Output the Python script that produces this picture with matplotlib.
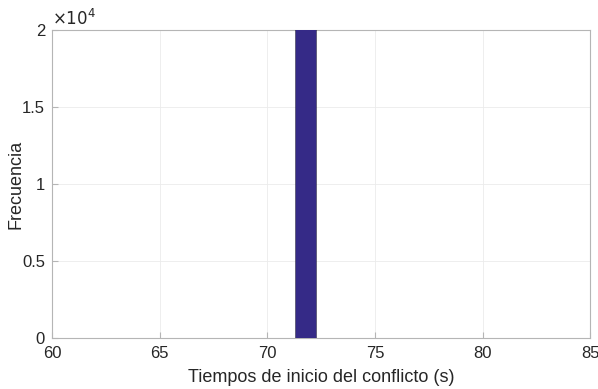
import numpy as np
import matplotlib.pyplot as plt
from matplotlib.ticker import FuncFormatter

plt.rcParams['font.family'] = ['Liberation Sans', 'DejaVu Sans']

# histograma de tiempos de inicio del conflicto
bordes = np.linspace(61.25, 81.30, 21)
frecuencias = [1, 1, 2, 2, 3, 4, 5, 6, 8, 10,
               21000, 10, 8, 6, 5, 4, 3, 2, 2, 1]

fig = plt.figure(figsize=(5.98, 3.89), dpi=100)
ax = fig.add_axes([0.087, 0.131, 0.900, 0.792])

anchos = np.diff(bordes)
ax.bar(bordes[:-1], frecuencias, width=anchos, align='edge',
       color='#352A87', edgecolor=(0, 0, 0, 0.5), linewidth=0.5, zorder=3)

ax.set_xlim(60, 85)
ax.set_ylim(0, 20000)
ax.set_xticks([60, 65, 70, 75, 80, 85])
ax.set_yticks([0, 5000, 10000, 15000, 20000])
ax.yaxis.set_major_formatter(FuncFormatter(lambda v, p: f'{v / 1e4:g}'))
ax.text(0.0, 1.005, r'$\times 10^{4}$', transform=ax.transAxes,
        fontsize=12, color='#262626', ha='left', va='bottom')

ax.grid(True, color='#ebebeb', linewidth=0.6, zorder=0)
for s in ax.spines.values():
    s.set_color('#b5b5b5')
    s.set_linewidth(0.8)
ax.tick_params(direction='in', length=4, color='#b5b5b5', labelsize=12,
               labelcolor='#262626')
ax.tick_params(axis='y', pad=5)
ax.tick_params(axis='x', pad=6)

ax.set_xlabel('Tiempos de inicio del conflicto (s)', fontsize=13,
              color='#262626')
ax.set_ylabel('Frecuencia', fontsize=13, color='#262626')
ax.xaxis.set_label_coords(0.5, -0.1)
ax.yaxis.set_label_coords(-0.052, 0.5)

fig.savefig('out.png', dpi=100)
